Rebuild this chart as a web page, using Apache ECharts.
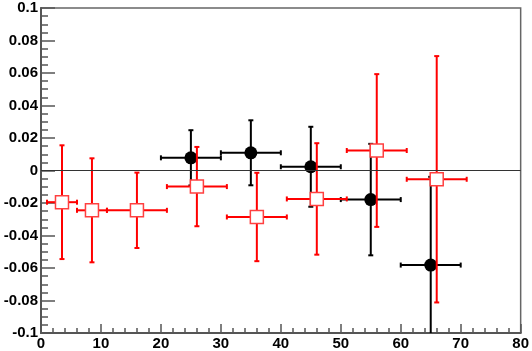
<!DOCTYPE html>
<html>
<head>
<meta charset="utf-8">
<script src="https://cdn.jsdelivr.net/npm/echarts@6/dist/echarts.min.js"></script>
<style>
html,body{margin:0;padding:0;background:#fff;}
#chart{width:532px;height:351px;}
</style>
</head>
<body>
<div id="chart"></div>
<script>
// Black series (filled circles)
const blackX = [25, 35, 45, 55, 65];
const blackY = [0.0078, 0.0109, 0.0023, -0.0179, -0.0582];
const blackXErr = [5, 5, 5, 5, 5];
const blackYErr = [0.017, 0.020, 0.0246, 0.0343, 0.0543];

// Red series (open squares)
const redX = [3.5, 8.5, 16, 26, 36, 46, 56, 66];
const redY = [-0.0195, -0.0245, -0.0245, -0.0099, -0.0286, -0.0175, 0.0123, -0.0054];
const redXErr = [2.5, 2.5, 5, 5, 5, 5, 5, 5];
const redYErr = [0.035, 0.032, 0.0232, 0.0244, 0.0272, 0.0343, 0.047, 0.0758];

// Axis ticks
const xTicks = [0, 10, 20, 30, 40, 50, 60, 70, 80];
const yTicks = [-0.1, -0.08, -0.06, -0.04, -0.02, 0, 0.02, 0.04, 0.06, 0.08, 0.1];
const yTickLabels = ['-0.1', '-0.08', '-0.06', '-0.04', '-0.02', '0', '0.02', '0.04', '0.06', '0.08', '0.1'];
const xTickLabels = ['0', '10', '20', '30', '40', '50', '60', '70', '80'];

const Y_MIN = -0.1, Y_MAX = 0.1;

function build(xs, ys, xe, ye) {
  return xs.map((x, i) => [x, ys[i], xe[i], ye[i]]);
}

function errRender(color) {
  return function (params, api) {
    const x = api.value(0), y = api.value(1), dx = api.value(2), dy = api.value(3);
    const yTop = Math.min(y + dy, Y_MAX), yBot = Math.max(y - dy, Y_MIN);
    const l = api.coord([x - dx, y]);
    const r = api.coord([x + dx, y]);
    const t = api.coord([x, yTop]);
    const b = api.coord([x, yBot]);
    const cap = 2.5;
    const style = { stroke: color, lineWidth: 2 };
    const ch = [
      { type: 'line', shape: { x1: l[0], y1: l[1], x2: r[0], y2: r[1] }, style: style },
      { type: 'line', shape: { x1: t[0], y1: t[1], x2: b[0], y2: b[1] }, style: style },
      { type: 'line', shape: { x1: l[0], y1: l[1] - cap, x2: l[0], y2: l[1] + cap }, style: style },
      { type: 'line', shape: { x1: r[0], y1: r[1] - cap, x2: r[0], y2: r[1] + cap }, style: style }
    ];
    if (y + dy <= Y_MAX) ch.push({ type: 'line', shape: { x1: t[0] - cap, y1: t[1], x2: t[0] + cap, y2: t[1] }, style: style });
    if (y - dy >= Y_MIN) ch.push({ type: 'line', shape: { x1: b[0] - cap, y1: b[1], x2: b[0] + cap, y2: b[1] }, style: style });
    return { type: 'group', children: ch };
  };
}

const chart = echarts.init(document.getElementById('chart'), null, { renderer: 'canvas' });
const labelFont = { fontFamily: 'Liberation Sans', fontWeight: 'bold', fontSize: 15, color: '#000' };

chart.setOption({
  animation: false,
  backgroundColor: '#fff',
  grid: { left: 41, right: 11, top: 8, bottom: 18, show: true, borderColor: '#666', borderWidth: 1.5, backgroundColor: 'transparent' },
  xAxis: {
    type: 'value', min: 0, max: 80, interval: 10,
    axisLine: { show: true, onZero: false, lineStyle: { color: '#555', width: 2 } },
    axisTick: { show: true, inside: true, length: 9, lineStyle: { color: '#555', width: 1.5 } },
    minorTick: { show: true, splitNumber: 5, length: 5, lineStyle: { color: '#555', width: 1.5 } },
    splitLine: { show: false },
    axisLabel: Object.assign({ margin: 3, formatter: v => { const i = xTicks.indexOf(Math.round(v)); return i >= 0 ? xTickLabels[i] : ''; } }, labelFont)
  },
  yAxis: {
    type: 'value', min: -0.1, max: 0.1, interval: 0.02,
    axisLine: { show: true, onZero: false, lineStyle: { color: '#555', width: 2 } },
    axisTick: { show: true, inside: true, length: 14, lineStyle: { color: '#555', width: 1.5 } },
    minorTick: { show: true, splitNumber: 4, length: 7, lineStyle: { color: '#555', width: 1.5 } },
    splitLine: { show: false },
    axisLabel: Object.assign({ margin: 3, formatter: v => {
      let best = -1, bd = 1e9;
      yTicks.forEach((t, i) => { const d = Math.abs(t - v); if (d < bd) { bd = d; best = i; } });
      return bd < 1e-6 ? yTickLabels[best] : '';
    } }, labelFont)
  },
  series: [
    {
      type: 'custom', name: 'blackErr', clip: true,
      renderItem: errRender('#000'),
      encode: { x: 0, y: 1 },
      data: build(blackX, blackY, blackXErr, blackYErr),
      markLine: {
        silent: true, symbol: 'none', label: { show: false },
        lineStyle: { color: '#333', width: 1, type: 'solid' },
        data: [{ yAxis: 0 }]
      },
      z: 2
    },
    {
      type: 'scatter', name: 'black', symbol: 'circle', symbolSize: 13,
      itemStyle: { color: '#000', opacity: 1 },
      data: blackX.map((x, i) => [x, blackY[i]]),
      z: 3
    },
    {
      type: 'custom', name: 'redErr', clip: true,
      renderItem: errRender('#ff0000'),
      encode: { x: 0, y: 1 },
      data: build(redX, redY, redXErr, redYErr),
      z: 4
    },
    {
      type: 'scatter', name: 'red', symbol: 'rect', symbolSize: 13,
      itemStyle: { color: '#fff', borderColor: '#ff4040', borderWidth: 1.5, opacity: 1 },
      data: redX.map((x, i) => [x, redY[i]]),
      z: 5
    }
  ]
});
</script>
</body>
</html>
